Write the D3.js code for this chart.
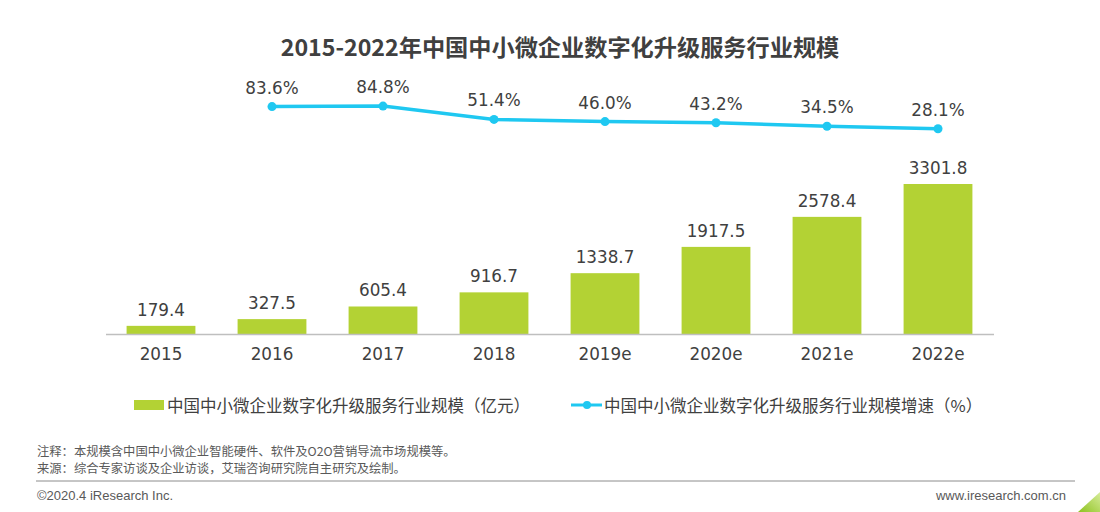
<!DOCTYPE html>
<html><head><meta charset="utf-8">
<script src="https://cdn.jsdelivr.net/npm/d3@7"></script>
<style>
body{margin:0;background:#fff;}
svg{display:block;}
</style></head>
<body>
<svg id="chart" width="1100" height="512"></svg>
<script>
const categories = ["2015","2016","2017","2018","2019e","2020e","2021e","2022e"];
const marketSize = [179.4,327.5,605.4,916.7,1338.7,1917.5,2578.4,3301.8];
const growthRate = [null,83.6,84.8,51.4,46.0,43.2,34.5,28.1];
const title = "2015-2022年中国中小微企业数字化升级服务行业规模";
const legendLabels = ["中国中小微企业数字化升级服务行业规模（亿元）","中国中小微企业数字化升级服务行业规模增速（%）"];
const notes = ["注释：本规模含中国中小微企业智能硬件、软件及O2O营销导流市场规模等。","来源：综合专家访谈及企业访谈，艾瑞咨询研究院自主研究及绘制。"];
const footerLeft = "©2020.4 iResearch Inc.";
const footerRight = "www.iresearch.com.cn";

const barColor = "#b3d234", lineColor = "#1fc8f1", textColor = "#404040";
const svg = d3.select("#chart");
const numFont = "'DejaVu Sans', Verdana, sans-serif";
const cjkFont = "'Noto Sans CJK SC', 'Noto Sans', sans-serif";
const numSize = 16.8;

svg.append("text").attr("x",560).attr("y",56).attr("text-anchor","middle")
  .attr("font-family",cjkFont).attr("font-weight","bold").attr("font-size",23.2)
  .attr("fill",textColor).text(title);

const x = d3.scaleBand().domain(categories).range([105.5,993.5]).paddingInner(0.38).paddingOuter(0.19);
const y = d3.scaleLinear().domain([0,3500]).range([334,334-3500*0.04543]);
const y2 = d3.scaleLinear().domain([0,100]).range([140,100]);

svg.append("g").selectAll("rect").data(marketSize).join("rect")
  .attr("x",(d,i)=>x(categories[i])).attr("width",x.bandwidth())
  .attr("y",d=>y(d)).attr("height",d=>y(0)-y(d)).attr("fill",barColor);

svg.append("g").selectAll("text").data(marketSize).join("text")
  .attr("x",(d,i)=>x(categories[i])+x.bandwidth()/2).attr("y",d=>y(d)-10)
  .attr("text-anchor","middle").attr("font-family",numFont).attr("font-size",numSize)
  .attr("fill",textColor).text(d=>d.toFixed(1));

const xAxis = svg.append("g").attr("transform","translate(0,334)")
  .call(d3.axisBottom(x).tickSize(0).tickPadding(14));
xAxis.select(".domain").attr("stroke","#bfbfbf").attr("stroke-width",1.5);
xAxis.selectAll("text").attr("font-family",numFont).attr("font-size",numSize).attr("fill",textColor);

const pts = growthRate.map((v,i)=>({v,c:categories[i]})).filter(d=>d.v!=null);
const line = d3.line().x(d=>x(d.c)+x.bandwidth()/2).y(d=>y2(d.v));
svg.append("path").datum(pts).attr("d",line).attr("fill","none")
  .attr("stroke",lineColor).attr("stroke-width",3.5);
svg.append("g").selectAll("circle").data(pts).join("circle")
  .attr("cx",d=>x(d.c)+x.bandwidth()/2).attr("cy",d=>y2(d.v)).attr("r",4.5).attr("fill",lineColor);
svg.append("g").selectAll("text").data(pts).join("text")
  .attr("x",d=>x(d.c)+x.bandwidth()/2).attr("y",d=>y2(d.v)-13)
  .attr("text-anchor","middle").attr("font-family",numFont).attr("font-size",numSize)
  .attr("fill",textColor).text(d=>d.v.toFixed(1)+"%");

// legend
const lg = svg.append("g");
lg.append("rect").attr("x",134).attr("y",400).attr("width",30).attr("height",10).attr("fill",barColor);
lg.append("text").attr("x",167).attr("y",411.5).attr("font-family",cjkFont).attr("font-size",16.5)
  .attr("fill",textColor).text(legendLabels[0]);
lg.append("line").attr("x1",571).attr("x2",602).attr("y1",405).attr("y2",405).attr("stroke",lineColor).attr("stroke-width",3);
lg.append("circle").attr("cx",587).attr("cy",405).attr("r",4).attr("fill",lineColor);
lg.append("text").attr("x",604).attr("y",411.5).attr("font-family",cjkFont).attr("font-size",16.5)
  .attr("fill",textColor).text(legendLabels[1]);

// notes
svg.append("g").selectAll("text").data(notes).join("text")
  .attr("x",37).attr("y",(d,i)=>455.5+i*17.5).attr("font-family",cjkFont).attr("font-size",12.3)
  .attr("fill","#595959").text(d=>d);
svg.append("line").attr("x1",36).attr("x2",1075).attr("y1",481).attr("y2",481).attr("stroke","#8c8c8c").attr("stroke-width",1);
svg.append("text").attr("x",37).attr("y",500).attr("font-family","'Liberation Sans', Arial, sans-serif").attr("font-size",13)
  .attr("fill","#595959").text(footerLeft);
svg.append("text").attr("x",1066).attr("y",500).attr("text-anchor","end").attr("font-family","'Liberation Sans', Arial, sans-serif").attr("font-size",13)
  .attr("fill","#595959").text(footerRight);

const grad = svg.append("defs").append("linearGradient").attr("id","g1").attr("x1","0").attr("y1","1").attr("x2","1").attr("y2","0");
grad.append("stop").attr("offset","0").attr("stop-color","#8dc21f");
grad.append("stop").attr("offset","1").attr("stop-color","#d7ec9a");
svg.append("path").attr("d","M1078,512 L1100,492 L1100,512 Z").attr("fill","url(#g1)");
</script>
</body></html>
